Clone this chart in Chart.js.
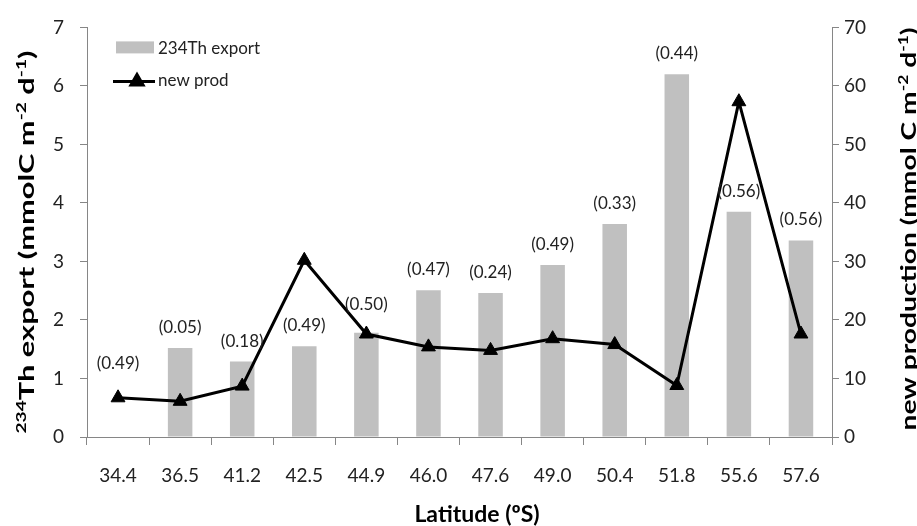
<!DOCTYPE html>
<html>
<head>
<meta charset="utf-8">
<script src="https://cdn.jsdelivr.net/npm/chart.js@4/dist/chart.umd.min.js"></script>
<style>
  html, body { margin: 0; padding: 0; background: #ffffff; }
  #wrap { width: 917px; height: 526px; position: relative; }
</style>
</head>
<body>
<div id="wrap"><canvas id="chart" width="917" height="526"></canvas></div>
<script>
// Station latitudes (°S)
const latitudes = ['34.4', '36.5', '41.2', '42.5', '44.9', '46.0', '47.6', '49.0', '50.4', '51.8', '55.6', '57.6'];
// 234Th-derived export (mmolC m-2 d-1); no value at 34.4
const thExport = [null, 1.52, 1.29, 1.55, 1.78, 2.51, 2.46, 2.94, 3.64, 6.20, 3.85, 3.36];
// New production (mmol C m-2 d-1)
const newProd = [6.7, 6.1, 8.7, 30.2, 17.6, 15.4, 14.8, 16.8, 15.8, 8.8, 57.3, 17.6];
// Ratios printed above each station
const ratioLabels = ['(0.49)', '(0.05)', '(0.18)', '(0.49)', '(0.50)', '(0.47)', '(0.24)', '(0.49)', '(0.33)', '(0.44)', '(0.56)', '(0.56)'];
// Axis tick values
const leftTicks = [0, 1, 2, 3, 4, 5, 6, 7];
const rightTicks = [0, 10, 20, 30, 40, 50, 60, 70];

// Axis titles as runs of normal / superscript text
const leftTitle = [['234', true], ['Th export (mmolC m', false], ['-2', true], [' d', false], ['-1', true], [')', false]];
const rightTitle = [['new production (mmol C m', false], ['-2', true], [' d', false], ['-1', true], [')', false]];
const xTitle = 'Latitude (ºS)';

const FONT = 'Lato, "Open Sans", sans-serif';
const AXIS_GREY = '#868686';
const BAR_GREY = '#c0c0c0';
const TEXT = '#222222';

// Ratio labels drawn above each bar (or above the line point where no bar exists)
const ratioLabelPlugin = {
  id: 'ratioLabels',
  afterDatasetsDraw(chart) {
    const ctx = chart.ctx;
    const barMeta = chart.getDatasetMeta(0);
    const lineMeta = chart.getDatasetMeta(1);
    ctx.save();
    ctx.font = '17px ' + FONT;
    ctx.fillStyle = TEXT;
    ctx.textAlign = 'center';
    ctx.textBaseline = 'bottom';
    ratioLabels.forEach((txt, i) => {
      const bar = barMeta.data[i];
      let x, y;
      if (thExport[i] !== null && bar) {
        x = bar.x;
        y = bar.y - 12 - (i === 4 ? 8 : 0);
      } else {
        const pt = lineMeta.data[i];
        x = pt.x;
        y = pt.y - 26;
      }
      ctx.fillText(txt, x, y);
    });
    ctx.restore();
  }
};

// Legend drawn inside the plot area, upper left
const insideLegendPlugin = {
  id: 'insideLegend',
  afterDraw(chart) {
    const ctx = chart.ctx;
    const left = chart.chartArea.left;
    const top = chart.chartArea.top;
    ctx.save();
    ctx.fillStyle = BAR_GREY;
    ctx.fillRect(left + 29, top + 14, 38, 12);
    ctx.strokeStyle = '#000';
    ctx.lineWidth = 3;
    ctx.beginPath();
    ctx.moveTo(left + 26, top + 54);
    ctx.lineTo(left + 68, top + 54);
    ctx.stroke();
    Chart.helpers.drawPoint(ctx, { pointStyle: 'triangle', radius: 7, borderWidth: 1 }, left + 50, top + 54);
    ctx.fillStyle = '#000';
    ctx.fill();
    ctx.font = '17px ' + FONT;
    ctx.fillStyle = TEXT;
    ctx.textAlign = 'left';
    ctx.textBaseline = 'middle';
    ctx.fillText('234Th export', left + 71, top + 21);
    ctx.fillText('new prod', left + 71, top + 53);
    ctx.restore();
  }
};

// Draws a run of normal/superscript text centred on the origin, stretched to a given length
function drawRuns(ctx, runs, size, targetLen) {
  const normal = 'bold ' + size + 'px ' + FONT;
  const sup = 'bold ' + Math.round(size * 0.62) + 'px ' + FONT;
  let total = 0;
  const widths = runs.map(([t, s]) => {
    ctx.font = s ? sup : normal;
    const w = ctx.measureText(t).width;
    total += w;
    return w;
  });
  const sx = targetLen / total;
  ctx.scale(sx, 1);
  let x = -total / 2;
  runs.forEach(([t, s], i) => {
    ctx.font = s ? sup : normal;
    ctx.fillText(t, x, s ? -size * 0.38 : 0);
    x += widths[i];
  });
}

// Axis titles
const axisTitlePlugin = {
  id: 'axisTitles',
  afterDraw(chart) {
    const ctx = chart.ctx;
    ctx.save();
    ctx.fillStyle = '#000';
    ctx.textAlign = 'left';
    ctx.textBaseline = 'alphabetic';

    ctx.save();
    ctx.translate(34, 242);
    ctx.rotate(-Math.PI / 2);
    drawRuns(ctx, leftTitle, 21, 383);
    ctx.restore();

    ctx.save();
    ctx.translate(916, 229);
    ctx.rotate(-Math.PI / 2);
    drawRuns(ctx, rightTitle, 21, 403);
    ctx.restore();

    ctx.font = 'bold 23px ' + FONT;
    ctx.textAlign = 'center';
    ctx.fillText(xTitle, 477, 522);
    ctx.restore();
  }
};

new Chart(document.getElementById('chart'), {
  data: {
    labels: latitudes,
    datasets: [
      {
        type: 'bar',
        label: '234Th export',
        data: thExport,
        yAxisID: 'y',
        backgroundColor: BAR_GREY,
        borderWidth: 0,
        barPercentage: 0.395,
        categoryPercentage: 1.0,
        order: 2
      },
      {
        type: 'line',
        label: 'new prod',
        data: newProd,
        yAxisID: 'y1',
        borderColor: '#000000',
        borderWidth: 3,
        backgroundColor: '#000000',
        pointStyle: 'triangle',
        pointRadius: 8,
        pointBackgroundColor: '#000000',
        pointBorderColor: '#000000',
        pointBorderWidth: 1,
        tension: 0,
        order: 1
      }
    ]
  },
  options: {
    responsive: false,
    animation: false,
    devicePixelRatio: 1,
    layout: { padding: { top: 19, right: 0, left: 0, bottom: 0 } },
    plugins: {
      legend: { display: false },
      tooltip: { enabled: false }
    },
    scales: {
      x: {
        type: 'category',
        offset: true,
        grid: { offset: true, drawOnChartArea: false, tickLength: 8, color: AXIS_GREY, lineWidth: 1 },
        border: { color: AXIS_GREY, width: 1 },
        ticks: { font: { family: FONT, size: 19 }, color: TEXT, padding: 19, maxRotation: 0 },
        afterFit(scale) { scale.height = 89; }
      },
      y: {
        position: 'left',
        min: 0,
        max: 7,
        afterBuildTicks(scale) { scale.ticks = leftTicks.map(v => ({ value: v })); },
        grid: { drawOnChartArea: false, tickLength: 7, color: AXIS_GREY },
        border: { color: AXIS_GREY, width: 1 },
        ticks: { font: { family: FONT, size: 19 }, color: TEXT, padding: 16 },
        afterFit(scale) { scale.width = 87; }
      },
      y1: {
        position: 'right',
        min: 0,
        max: 70,
        afterBuildTicks(scale) { scale.ticks = rightTicks.map(v => ({ value: v })); },
        grid: { drawOnChartArea: false, tickLength: 7, color: AXIS_GREY },
        border: { color: AXIS_GREY, width: 1 },
        ticks: { font: { family: FONT, size: 19 }, color: TEXT, padding: 5 },
        afterFit(scale) { scale.width = 85; }
      }
    }
  },
  plugins: [ratioLabelPlugin, insideLegendPlugin, axisTitlePlugin]
});
</script>
</body>
</html>
